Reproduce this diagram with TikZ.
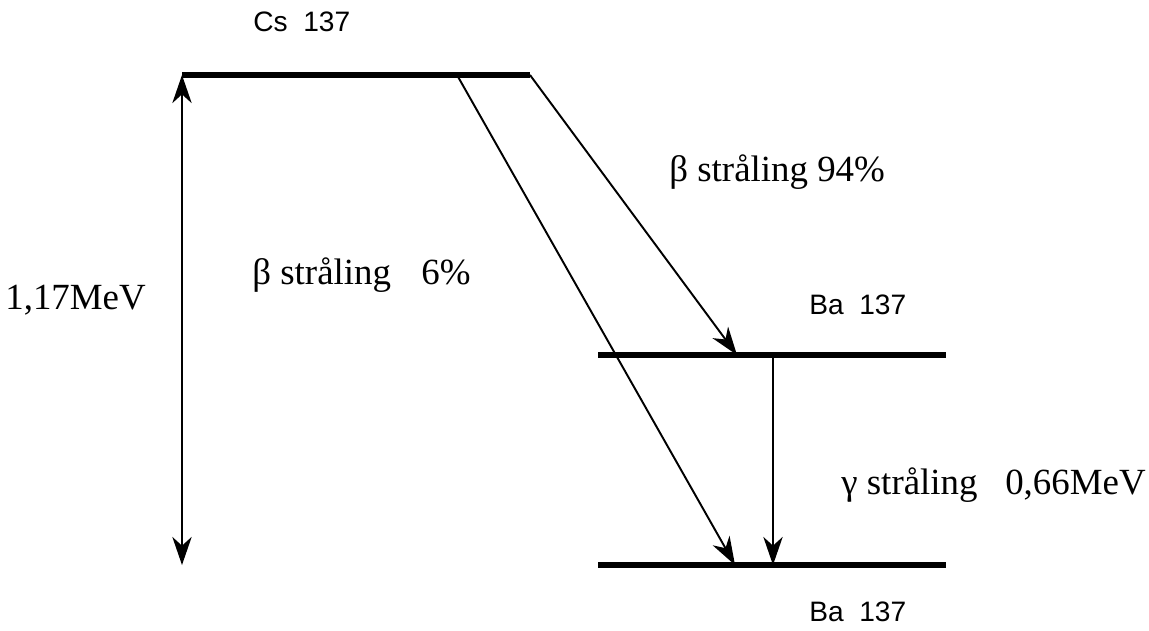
\documentclass[tikz,border=0pt]{standalone}
\usepackage{fontspec}
\setmainfont{Liberation Serif}
\setsansfont{Liberation Sans}
\usetikzlibrary{arrows.meta}
\begin{document}
\begin{tikzpicture}[x=0.02cm, y=-0.02cm,
    niveau/.style={line width=3pt},
    spets/.tip={Stealth[length=16pt, width=11pt, inset=5pt]},
    pil/.style={line width=1.1pt, -spets},
    txt/.style={font=\fontsize{21}{24}\selectfont, anchor=west, inner sep=0pt},
    nuklid/.style={font=\sffamily\fontsize{16}{19}\selectfont, anchor=west, inner sep=0pt}]
      \useasboundingbox (0,0) rectangle (1149,630);
      % energinivåer
      \coordinate (cs-l) at (182,75);
      \coordinate (cs-r) at (530,75);
      \coordinate (cs-m) at (457,75);
      \coordinate (ba1-l) at (598,355);
      \coordinate (ba1-r) at (946,355);
      \coordinate (ba1-b) at (737,355);
      \coordinate (ba1-g) at (773,355);
      \coordinate (ba2-l) at (598,565);
      \coordinate (ba2-r) at (946,565);
      \coordinate (ba2-b) at (735,565);
      \coordinate (ba2-g) at (773,565);
      \coordinate (e-top) at (182,75);
      \coordinate (e-bot) at (182,565);
      \draw[niveau] (cs-l) -- (cs-r);
      \draw[niveau] (ba1-l) -- (ba1-r);
      \draw[niveau] (ba2-l) -- (ba2-r);
      % övergångar
      \draw[pil] (cs-r) -- (ba1-b);
      \draw[pil] (cs-m) -- (ba2-b);
      \draw[pil] (ba1-g) -- (ba2-g);
      \draw[pil, spets-spets] (e-top) -- (e-bot);
      % etiketter
      \node[nuklid] (cs) at (253,22) {Cs\ \ 137};
      \node[nuklid] (ba1) at (809,305) {Ba\ \ 137};
      \node[nuklid] (ba2) at (809,612) {Ba\ \ 137};
      \node[txt] (energi) at (5,300) {1,17MeV};
      \node[txt] (beta94) at (669,172) {β stråling 94\%};
      \node[txt] (beta6) at (252,275) {β stråling \ \ \hspace{1.5pt}6\%};
      \node[txt] (gamma) at (841,485) {γ stråling \ \ 0,66MeV};
\end{tikzpicture}
\end{document}
